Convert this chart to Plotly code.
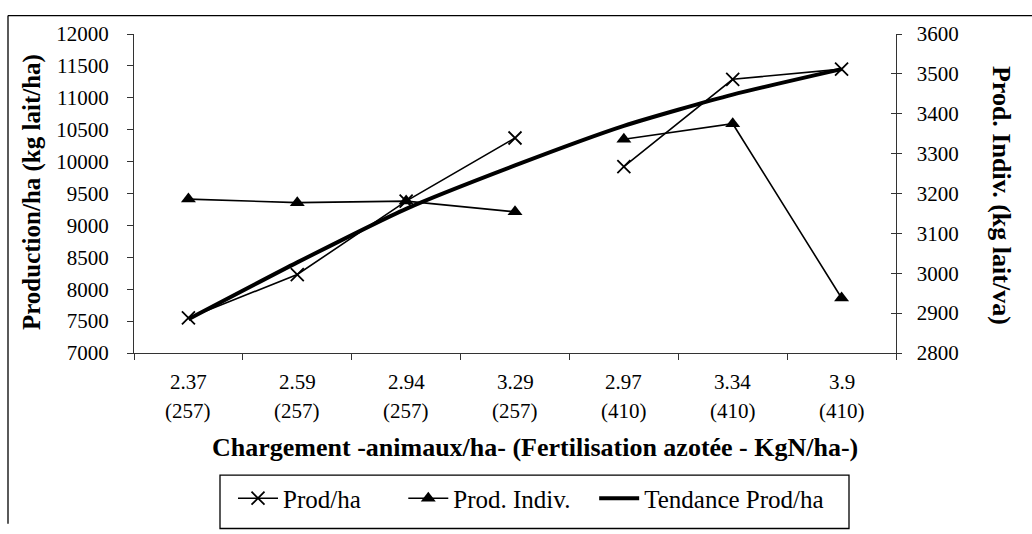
import plotly.graph_objects as go

# ---- data ----
charge = ["2.37", "2.59", "2.94", "3.29", "2.97", "3.34", "3.9"]
fert = ["(257)", "(257)", "(257)", "(257)", "(410)", "(410)", "(410)"]
prod_ha = [7550, 8230, 9380, 10370, 9920, 11290, 11450]
prod_indiv = [3186, 3177, 3181, 3154, 3336, 3375, 2938]
tendance = [7530, 8420, 9260, 9940, 10560, 11050, 11450]
left_ticks = [7000, 7500, 8000, 8500, 9000, 9500, 10000, 10500, 11000, 11500, 12000]
right_ticks = [2800, 2900, 3000, 3100, 3200, 3300, 3400, 3500, 3600]

# ---- geometry (pixels) ----
W, H = 1032, 534
L, R, T, B = 134, 896, 34, 363
FONT = "Liberation Serif"
NBSP = "\u00a0"


def px_x(p):
    return (p - L) / (R - L)


def px_y(p):
    return (B - p) / (B - T)


cats = [f"{c} {f}" for c, f in zip(charge, fert)]
groups = [(0, 4), (4, 7)]

fig = go.Figure()

# Prod/ha (two groups, no link between fertilisation levels)
for i, (a, b) in enumerate(groups):
    fig.add_trace(go.Scatter(
        x=cats[a:b], y=prod_ha[a:b], mode="lines+markers",
        name="Prod/ha" + NBSP * 6,
        legendgroup="ha", showlegend=(i == 0), legendrank=1,
        line=dict(color="black", width=1.6),
        marker=dict(symbol="x-thin", size=13, line=dict(color="black", width=1.8)),
    ))

# Prod. Indiv. (right axis)
for i, (a, b) in enumerate(groups):
    fig.add_trace(go.Scatter(
        x=cats[a:b], y=prod_indiv[a:b], mode="lines+markers",
        name="Prod. Indiv." + NBSP * 3,
        legendgroup="ind", showlegend=(i == 0), legendrank=2, yaxis="y2",
        line=dict(color="black", width=1.6),
        marker=dict(symbol="triangle-up", size=13, color="black"),
    ))

# trend line
fig.add_trace(go.Scatter(
    x=cats, y=tendance, mode="lines", name="Tendance Prod/ha",
    line=dict(color="black", width=4, shape="spline", smoothing=0.6),
    legendrank=3,
))

# invisible trace to carry the inner tick marks of the right axis
fig.add_trace(go.Scatter(
    x=cats, y=prod_indiv, yaxis="y3", mode="lines", opacity=0,
    showlegend=False, hoverinfo="skip",
))

axis_col = "#333333"
tick_font = dict(family=FONT, size=21, color="black")

fig.update_layout(
    width=W, height=H,
    margin=dict(l=L, r=W - R, t=T, b=H - B, pad=0),
    paper_bgcolor="white", plot_bgcolor="white",
    font=dict(family=FONT, color="black"),
    xaxis=dict(
        type="category", range=[-0.5, 6.5], showgrid=False, zeroline=False,
        showline=True, linecolor=axis_col, linewidth=1,
        ticks="outside", ticklen=6, tickcolor=axis_col, tickson="boundaries",
        showticklabels=False,
    ),
    yaxis=dict(
        range=[7000, 12000], tickvals=left_ticks, tickformat="d",
        showgrid=False, zeroline=False,
        showline=True, linecolor=axis_col, linewidth=1,
        ticks="outside", ticklen=6, tickcolor=axis_col,
        tickfont=tick_font, ticklabelstandoff=14,
    ),
    yaxis2=dict(
        range=[2800, 3600], tickvals=right_ticks,
        ticktext=[NBSP * 2 + str(v) for v in right_ticks],
        overlaying="y", side="right",
        showgrid=False, zeroline=False,
        showline=True, linecolor=axis_col, linewidth=1,
        ticks="outside", ticklen=5, tickcolor=axis_col,
        tickfont=tick_font,
    ),
    yaxis3=dict(
        range=[2800, 3600], tickvals=right_ticks, overlaying="y", side="right",
        showgrid=False, zeroline=False, showline=False,
        ticks="inside", ticklen=5, tickcolor=axis_col, showticklabels=False,
    ),
    legend=dict(
        orientation="h", x=px_x(233), xanchor="left", y=px_y(513), yanchor="middle",
        font=dict(family=FONT, size=25, color="black"),
        bgcolor="rgba(0,0,0,0)", borderwidth=0, traceorder="normal",
        itemwidth=40,
    ),
    showlegend=True,
)

annotations = []
for c, lab1, lab2 in zip(cats, charge, fert):
    annotations.append(dict(x=c, xref="x", y=px_y(393), yref="paper", text=lab1,
                            showarrow=False, yanchor="middle",
                            font=dict(family=FONT, size=21, color="black")))
    annotations.append(dict(x=c, xref="x", y=px_y(423), yref="paper", text=lab2,
                            showarrow=False, yanchor="middle",
                            font=dict(family=FONT, size=21, color="black")))

annotations.append(dict(
    x=px_x(535), xref="paper", y=px_y(460), yref="paper",
    text="<b>Chargement -animaux/ha- (Fertilisation azotée - KgN/ha-)</b>",
    showarrow=False, xanchor="center", yanchor="middle",
    font=dict(family=FONT, size=26, color="black")))
annotations.append(dict(
    x=px_x(32), xref="paper", y=px_y(197), yref="paper",
    text="<b>Production/ha (kg lait/ha)</b>", textangle=-90,
    showarrow=False, xanchor="center", yanchor="middle",
    font=dict(family=FONT, size=25, color="black")))
annotations.append(dict(
    x=px_x(1001), xref="paper", y=px_y(200), yref="paper",
    text="<b>Prod. Indiv. (kg lait/va)</b>", textangle=90,
    showarrow=False, xanchor="center", yanchor="middle",
    font=dict(family=FONT, size=26, color="black")))
fig.update_layout(annotations=annotations)

# outer frame (left and top edges) and legend box
shapes = [
    dict(type="line", xref="paper", yref="paper", x0=px_x(8), y0=px_y(15),
         x1=px_x(W + 5), y1=px_y(15), line=dict(color="black", width=1.3)),
    dict(type="line", xref="paper", yref="paper", x0=px_x(8), y0=px_y(15),
         x1=px_x(8), y1=px_y(H + 5), line=dict(color="black", width=1.3)),
    dict(type="rect", xref="paper", yref="paper", x0=px_x(220), y0=px_y(489),
         x1=px_x(849), y1=px_y(H + 10), line=dict(color="black", width=1.3),
         fillcolor="rgba(0,0,0,0)"),
]
fig.update_layout(shapes=shapes)

fig.write_html("out.html")
